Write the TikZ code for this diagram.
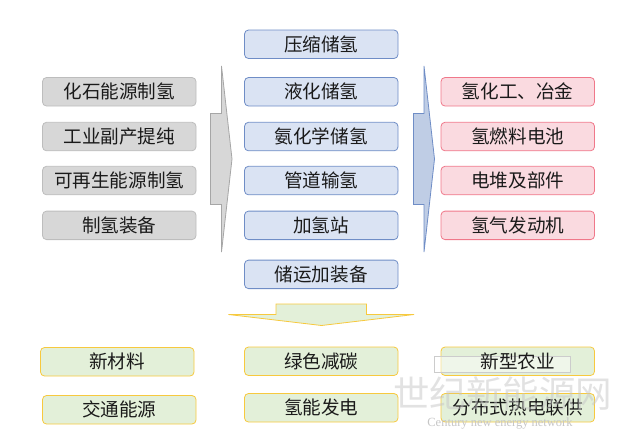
\documentclass[tikz,border=0pt]{standalone}
\usepackage{fontspec}
\setmainfont{Noto Sans CJK SC}
\newfontfamily\markserif{Liberation Serif}
\usepackage{tikz}
\usetikzlibrary{positioning}
\definecolor{grayFill}{HTML}{D7D7D7}
\definecolor{grayLine}{HTML}{BDBDBD}
\definecolor{blueFill}{HTML}{DAE3F3}
\definecolor{blueLine}{HTML}{6F8DC6}
\definecolor{redFill}{HTML}{FADAE0}
\definecolor{redLine}{HTML}{F0788A}
\definecolor{greenFill}{HTML}{E3F0D9}
\definecolor{greenLine}{HTML}{F7C93E}
\definecolor{blueArrow}{HTML}{BFCDE5}
\definecolor{inkText}{HTML}{1A1A1A}
\tikzset{
  basebox/.style={rounded corners=4pt,line width=0.8pt,minimum width=153.5pt,
    minimum height=28.5pt,inner sep=0pt,outer sep=0pt,text=inkText,
    font=\fontsize{18.6pt}{20pt}\selectfont},
  graybox/.style={basebox,draw=grayLine,fill=grayFill},
  bluebox/.style={basebox,draw=blueLine,fill=blueFill},
  redbox/.style={basebox,draw=redLine,fill=redFill},
  greenbox/.style={basebox,draw=greenLine,fill=greenFill},
  markfont/.style={text=gray!45,inner sep=0pt},
}
\begin{document}
\begin{tikzpicture}[x=1pt,y=-1pt]
    \useasboundingbox (0,0) rectangle (620,432);
    % left column
    \node[graybox,anchor=north west] (fossil) at (42.5,77.5) {化石能源制氢};
    \node[graybox,below=16.3pt of fossil] (byproduct) {工业副产提纯};
    \node[graybox,below=15.5pt of byproduct] (renew) {可再生能源制氢};
    \node[graybox,below=16.3pt of renew] (prodkit) {制氢装备};
    % middle column
    \node[bluebox,anchor=north west] (compress) at (244.5,30) {压缩储氢};
    \node[bluebox,below=19pt of compress] (liquid) {液化储氢};
    \node[bluebox,below=16.3pt of liquid] (ammonia) {氨化学储氢};
    \node[bluebox,below=15.5pt of ammonia] (pipe) {管道输氢};
    \node[bluebox,below=16.3pt of pipe] (station) {加氢站};
    \node[bluebox,below=20.5pt of station] (transkit) {储运加装备};
    % right column
    \node[redbox,anchor=north west] (chem) at (441,77.5) {氢化工、冶金};
    \node[redbox,below=16.3pt of chem] (fuelcell) {氢燃料电池};
    \node[redbox,below=15.5pt of fuelcell] (stack) {电堆及部件};
    \node[redbox,below=16.3pt of stack] (engine) {氢气发动机};
    % block arrows
    \draw[draw=gray!70,fill=grayFill,line width=0.8pt] (210.5,113.5) -- (221.5,113.5)
      -- (221.5,66) -- (232,159) -- (221.5,252) -- (221.5,204.5) -- (210.5,204.5) -- cycle;
    \draw[draw=blueLine,fill=blueArrow,line width=0.8pt] (413.5,113.5) -- (424,113.5)
      -- (424,66) -- (434.5,159) -- (424,252) -- (424,204.5) -- (413.5,204.5) -- cycle;
    \draw[draw=greenLine,fill=greenFill,line width=0.8pt] (276,304) -- (366.5,304)
      -- (366.5,314.5) -- (414,314.5) -- (321.5,325.5) -- (228.5,314.5) -- (276,314.5) -- cycle;
    % bottom rows
    \node[greenbox,anchor=north west] (material) at (40.5,347.5) {新材料};
    \node[greenbox,anchor=north west] (traffic) at (42.5,395.5) {交通能源};
    \node[greenbox,anchor=north west] (carbon) at (244.5,347) {绿色减碳};
    \node[greenbox,below=18pt of carbon] (power) {氢能发电};
    \node[greenbox,anchor=north west] (farm) at (441,347) {};
    \node[greenbox,below=18pt of farm] (chp) {分布式热电联供};
    % site mark
    \node[draw=gray!40,fill=white,fill opacity=0.45,line width=0.6pt,minimum width=136pt,
          minimum height=16pt,inner sep=0pt] (markstrip) at (502,364) {};
    \node[basebox] (farmtext) at (farm) {新型农业};
    \node[markfont,font=\fontsize{36.5pt}{38pt}\selectfont,text opacity=0.5] (sitemark) at (502.5,394) {世纪新能源网};
    \node[markfont,font=\markserif\fontsize{12.5pt}{13pt}\selectfont] (sitename) at (500,423.5) {Century new energy network};
\end{tikzpicture}
\end{document}
